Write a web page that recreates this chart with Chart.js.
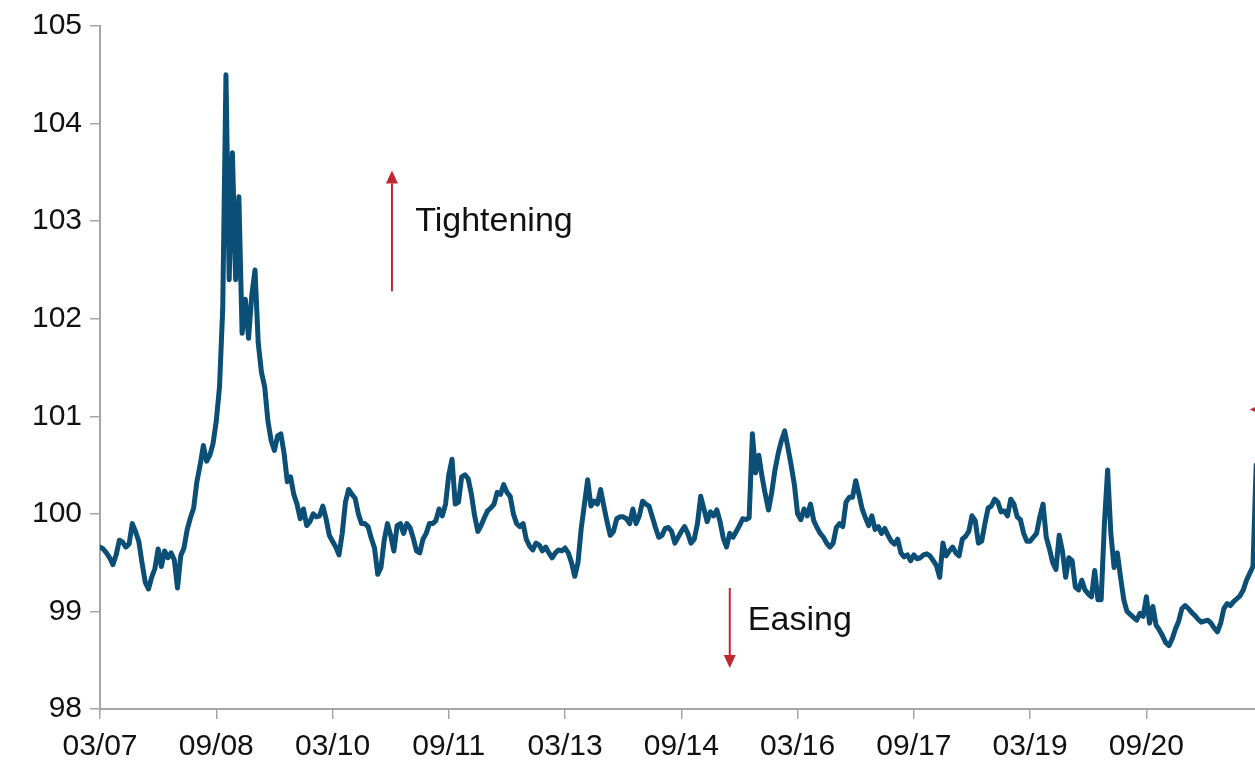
<!DOCTYPE html>
<html>
<head>
<meta charset="utf-8">
<script src="https://cdn.jsdelivr.net/npm/chart.js@4/dist/chart.umd.min.js"></script>
<style>
  html, body { margin: 0; padding: 0; background: #ffffff; overflow: hidden; }
  #wrap { width: 1262px; height: 764px; }
</style>
</head>
<body>
<div id="wrap"><canvas id="c" width="1262" height="764"></canvas></div>
<script>
// ---- DATA (semi-monthly readings, starting March 2007) ----
const startYear = 2007;
const startMonth = 3;          // March
const stepMonths = 0.5;        // one reading every half month
const fciValues = [
  // 2007-03 .. 2008-02
  99.66, 99.64, 99.6, 99.55, 99.48, 99.58, 99.73, 99.71, 99.66, 99.69, 99.9, 99.82,
  99.72, 99.5, 99.3, 99.23, 99.35, 99.44, 99.64, 99.46, 99.62, 99.55, 99.6, 99.53,
  // 2008-03 .. 2009-02
  99.24, 99.57, 99.65, 99.84, 99.96, 100.06, 100.33, 100.5, 100.7, 100.54, 100.6, 100.72,
  100.95, 101.3, 102.1, 104.5, 102.4, 103.7, 102.4, 103.25, 101.85, 102.2, 101.8, 102.24,
  // 2009-03 .. 2010-02
  102.5, 101.75, 101.45, 101.3, 100.95, 100.75, 100.65, 100.8, 100.82, 100.62, 100.33, 100.38,
  100.2, 100.1, 99.95, 100.05, 99.88, 99.92, 100.0, 99.97, 99.98, 100.08, 99.95, 99.78,
  // 2010-03 .. 2011-02
  99.72, 99.66, 99.58, 99.8, 100.12, 100.25, 100.2, 100.16, 100.0, 99.9, 99.9, 99.87,
  99.75, 99.65, 99.38, 99.45, 99.73, 99.9, 99.78, 99.62, 99.88, 99.9, 99.8, 99.9,
  // 2011-03 .. 2012-02
  99.86, 99.75, 99.62, 99.6, 99.74, 99.8, 99.9, 99.9, 99.93, 100.05, 99.98, 100.1,
  100.4, 100.56, 100.1, 100.12, 100.38, 100.4, 100.36, 100.2, 99.98, 99.82, 99.88, 99.96,
  // 2012-03 .. 2013-02
  100.03, 100.06, 100.1, 100.22, 100.2, 100.3, 100.22, 100.18, 100.0, 99.9, 99.87, 99.9,
  99.74, 99.67, 99.63, 99.7, 99.68, 99.62, 99.66, 99.6, 99.55, 99.6, 99.63, 99.62,
  // 2013-03 .. 2014-02
  99.65, 99.6, 99.5, 99.36, 99.5, 99.85, 100.1, 100.35, 100.08, 100.13, 100.1, 100.25,
  100.08, 99.92, 99.78, 99.82, 99.95, 99.97, 99.97, 99.95, 99.9, 100.05, 99.9, 99.98,
  // 2014-03 .. 2015-02
  100.13, 100.1, 100.08, 99.97, 99.86, 99.76, 99.78, 99.85, 99.86, 99.82, 99.7, 99.76,
  99.82, 99.87, 99.8, 99.7, 99.74, 99.9, 100.18, 100.05, 99.92, 100.02, 99.98, 100.04,
  // 2015-03 .. 2016-02
  99.92, 99.75, 99.66, 99.8, 99.76, 99.82, 99.88, 99.95, 99.94, 99.96, 100.82, 100.42,
  100.6, 100.38, 100.2, 100.04, 100.22, 100.45, 100.62, 100.75, 100.85, 100.68, 100.5, 100.3,
  // 2016-03 .. 2017-02
  100.0, 99.94, 100.05, 99.98, 100.1, 99.93, 99.86, 99.8, 99.76, 99.7, 99.66, 99.7,
  99.86, 99.9, 99.87, 100.12, 100.17, 100.17, 100.34, 100.2, 100.05, 99.96, 99.88, 99.98,
  // 2017-03 .. 2018-02
  99.84, 99.87, 99.8, 99.85, 99.78, 99.72, 99.69, 99.74, 99.6, 99.56, 99.58, 99.52,
  99.58, 99.54, 99.55, 99.58, 99.59, 99.57, 99.52, 99.47, 99.35, 99.7, 99.57, 99.62,
  // 2018-03 .. 2019-02
  99.66, 99.6, 99.57, 99.74, 99.77, 99.82, 99.98, 99.93, 99.7, 99.72, 99.9, 100.06,
  100.08, 100.15, 100.12, 100.02, 100.03, 99.98, 100.15, 100.1, 99.97, 99.94, 99.8, 99.72,
  // 2019-03 .. 2020-02
  99.72, 99.76, 99.8, 99.97, 100.1, 99.76, 99.64, 99.5, 99.43, 99.78, 99.62, 99.35,
  99.55, 99.52, 99.25, 99.22, 99.32, 99.22, 99.18, 99.15, 99.42, 99.12, 99.12, 99.9,
  // 2020-03 .. 2021-02
  100.45, 99.8, 99.45, 99.6, 99.35, 99.12, 99.0, 98.97, 98.94, 98.91, 98.98, 98.95,
  99.15, 98.88, 99.05, 98.86, 98.81, 98.75, 98.68, 98.65, 98.72, 98.82, 98.9, 99.03,
  // 2021-03 .. 2022-02
  99.06, 99.03, 98.99, 98.96, 98.92, 98.89, 98.9, 98.91, 98.88, 98.83, 98.79, 98.88,
  99.03, 99.08, 99.06, 99.1, 99.13, 99.16, 99.22, 99.32, 99.39, 99.46, 100.5
];
const tickMonths = [0, 18, 36, 54, 72, 90, 108, 126, 144, 162]; // months after 03/07
const yTicks = [98, 99, 100, 101, 102, 103, 104, 105];
const annotationTexts = ['Tightening', 'Easing'];

// ---- styling / annotation anchors (in data units) ----
const LINE_COLOR = '#0b4f76';
const RED = '#c0282e';
const AXIS_COLOR = '#a6a6a6';
const FONT = "'Liberation Sans', Arial, sans-serif";
const annotations = {
  arrows: [
    { from: [45.2, 102.28], to: [45.2, 103.52] },
    { from: [97.5, 99.24], to: [97.5, 98.42] },
    { from: [183.0, 101.07], to: [178.0, 101.07] }
  ],
  labels: [
    { at: [48.8, 103.0], text: annotationTexts[0] },
    { at: [100.3, 98.91], text: annotationTexts[1] }
  ]
};

function monthLabel(m) {
  const total = startYear * 12 + (startMonth - 1) + Math.round(m);
  const y = Math.floor(total / 12);
  const mo = total % 12 + 1;
  return String(mo).padStart(2, '0') + '/' + String(y % 100).padStart(2, '0');
}

const points = fciValues.map((v, i) => ({ x: i * stepMonths, y: v }));

const annotationPlugin = {
  id: 'annot',
  afterDatasetsDraw(chart) {
    const ctx = chart.ctx;
    const xs = chart.scales.x, ys = chart.scales.y;
    ctx.save();
    ctx.strokeStyle = RED;
    ctx.fillStyle = RED;
    ctx.lineWidth = 2;
    annotations.arrows.forEach(a => {
      const x1 = xs.getPixelForValue(a.from[0]), y1 = ys.getPixelForValue(a.from[1]);
      const x2 = xs.getPixelForValue(a.to[0]), y2 = ys.getPixelForValue(a.to[1]);
      const ang = Math.atan2(y2 - y1, x2 - x1);
      const headL = 13, headW = 6;
      const bx = x2 - headL * Math.cos(ang), by = y2 - headL * Math.sin(ang);
      ctx.beginPath();
      ctx.moveTo(x1, y1);
      ctx.lineTo(bx, by);
      ctx.stroke();
      ctx.beginPath();
      ctx.moveTo(x2, y2);
      ctx.lineTo(bx + headW * Math.sin(ang), by - headW * Math.cos(ang));
      ctx.lineTo(bx - headW * Math.sin(ang), by + headW * Math.cos(ang));
      ctx.closePath();
      ctx.fill();
    });
    ctx.fillStyle = '#111111';
    ctx.font = '34px ' + FONT;
    ctx.textAlign = 'left';
    ctx.textBaseline = 'middle';
    annotations.labels.forEach(l => {
      ctx.fillText(l.text, xs.getPixelForValue(l.at[0]), ys.getPixelForValue(l.at[1]));
    });
    ctx.restore();
  }
};

new Chart(document.getElementById('c'), {
  type: 'line',
  data: {
    datasets: [{
      data: points,
      borderColor: LINE_COLOR,
      borderWidth: 5,
      pointRadius: 0,
      tension: 0,
      borderJoinStyle: 'round',
      borderCapStyle: 'round',
      fill: false
    }]
  },
  options: {
    responsive: false,
    devicePixelRatio: 1,
    animation: false,
    events: [],
    layout: { padding: { top: 25, right: 0, bottom: 0, left: 0 } },
    plugins: { legend: { display: false }, tooltip: { enabled: false } },
    scales: {
      x: {
        type: 'linear',
        min: 0,
        max: 179.9,
        afterBuildTicks: s => { s.ticks = tickMonths.map(v => ({ value: v })); },
        afterFit: s => { s.height = 55; },
        border: { display: true, color: AXIS_COLOR, width: 2 },
        grid: { display: true, drawOnChartArea: false, drawTicks: true, tickLength: 10, color: AXIS_COLOR, lineWidth: 1.5 },
        ticks: {
          autoSkip: false,
          maxRotation: 0,
          padding: 10,
          color: '#111111',
          font: { family: FONT, size: 30 },
          callback: v => monthLabel(v)
        }
      },
      y: {
        min: 98,
        max: 105,
        afterBuildTicks: s => { s.ticks = yTicks.map(v => ({ value: v })); },
        afterFit: s => { s.width = 100; },
        border: { display: true, color: AXIS_COLOR, width: 2 },
        grid: { display: true, drawOnChartArea: false, drawTicks: true, tickLength: 10, color: AXIS_COLOR, lineWidth: 1.5 },
        ticks: {
          padding: 8,
          color: '#111111',
          font: { family: FONT, size: 30 },
          callback: v => String(v)
        }
      }
    }
  },
  plugins: [annotationPlugin]
});
</script>
</body>
</html>
